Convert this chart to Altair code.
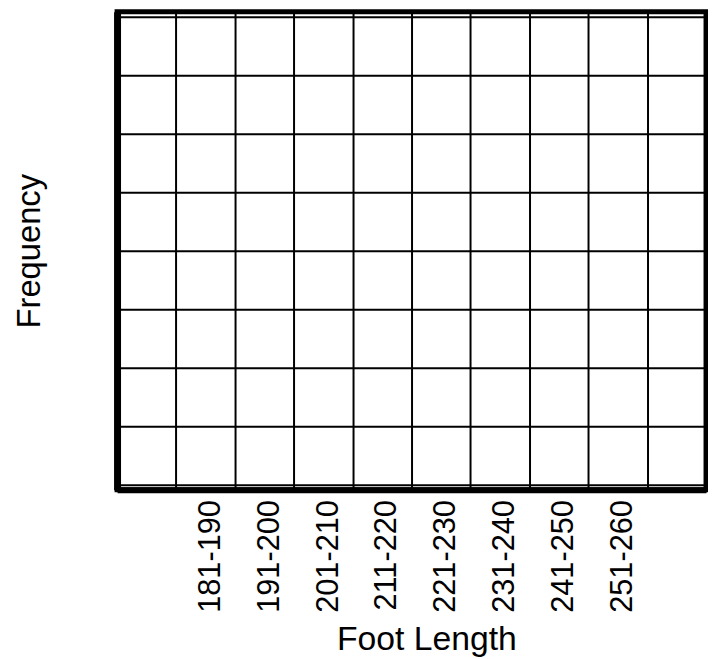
import json
import altair as alt
import pandas as pd

# Foot-length classes (mm) and their (blank) frequencies
bins = ["181-190", "191-200", "201-210", "211-220",
        "221-230", "231-240", "241-250", "251-260"]
bin_low = [181, 191, 201, 211, 221, 231, 241, 251]
bin_high = [190, 200, 210, 220, 230, 240, 250, 260]
frequency = [0, 0, 0, 0, 0, 0, 0, 0]

# grid columns: one empty class on each side of the labelled ones
x_edges = [170.5, 180.5, 190.5, 200.5, 210.5, 220.5,
           230.5, 240.5, 250.5, 260.5, 270.5]
y_edges = [0, 1, 2, 3, 4, 5, 6, 7, 8]

df = pd.DataFrame({
    "bin": bins,
    "start": [v - 0.5 for v in bin_low],
    "end": [v + 0.5 for v in bin_high],
    "frequency": frequency,
})

centers = [(lo + hi) / 2 for lo, hi in zip(bin_low, bin_high)]
label_expr = (
    "datum.value % 10 == 5.5 ? "
    + json.dumps(bins)
    + "[round((datum.value - " + str(centers[0]) + ") / 10)] : ''"
)

FONT = "Liberation Sans"

x_axis = alt.Axis(
    values=x_edges + centers,
    grid=True,
    gridColor="black",
    gridWidth=2,
    gridOpacity={"condition": {"test": "datum.value % 10 == 0.5", "value": 1}, "value": 0},
    ticks=False,
    tickSize=0,
    domain=True,
    domainColor="black",
    domainWidth=6,
    labelExpr=label_expr,
    labelAngle=-90,
    labelFont=FONT,
    labelFontSize=31,
    labelColor="black",
    labelPadding=10,
    labelOffset=5,
    labelOverlap=False,
    labelFlush=False,
    labelBound=False,
    title="Foot Length",
    titleFont=FONT,
    titleFontSize=34,
    titleFontWeight="normal",
    titleColor="black",
    titleX=312,
    titleY=161,
    titleAlign="center",
    titleBaseline="alphabetic",
)

y_axis = alt.Axis(
    values=y_edges,
    grid=True,
    gridColor="black",
    gridWidth=2,
    ticks=False,
    tickSize=0,
    labels=False,
    domain=True,
    domainColor="black",
    domainWidth=7,
    title="Frequency",
    titleFont=FONT,
    titleFontSize=33,
    titleFontWeight="normal",
    titleColor="black",
    titleAngle=270,
    titleX=-78,
    titleY=241,
    titleAlign="center",
    titleBaseline="alphabetic",
)

chart = (
    alt.Chart(df)
    .mark_bar(color="black", opacity=0)
    .encode(
        x=alt.X("start:Q", scale=alt.Scale(domain=[x_edges[0], x_edges[-1]], nice=False, zero=False), axis=x_axis),
        x2="end:Q",
        y=alt.Y("frequency:Q", scale=alt.Scale(domain=[y_edges[0], y_edges[-1]], nice=False), axis=y_axis),
    )
    .properties(
        width=594,
        height=482,
        background="white",
        autosize=alt.AutoSizeParams(type="none"),
        padding={"left": 110, "top": 1, "right": 2, "bottom": 168},
    )
    .configure_view(stroke="black", strokeWidth=5, fill="white")
)

chart.save("out.html", embed_options={"renderer": "svg", "actions": False})
